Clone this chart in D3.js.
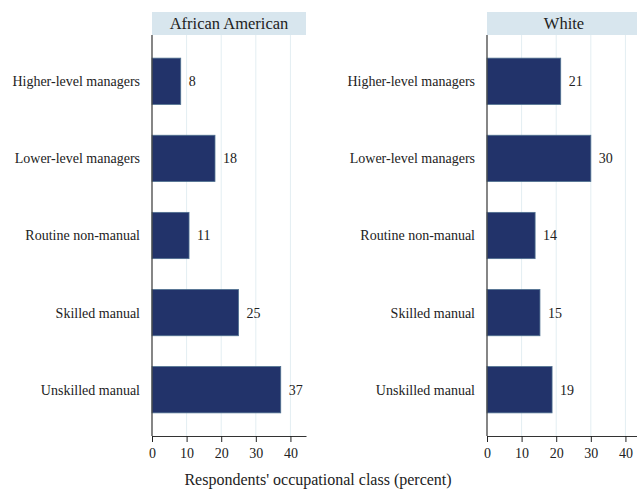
<!DOCTYPE html>
<html>
<head>
<meta charset="utf-8">
<script src="https://cdn.jsdelivr.net/npm/d3@7"></script>
<style>
  html, body { margin: 0; padding: 0; background: #fff; }
  svg { display: block; }
</style>
</head>
<body>
<svg id="chart" width="637" height="489"></svg>
<script>
const categories = ["Higher-level managers", "Lower-level managers", "Routine non-manual", "Skilled manual", "Unskilled manual"];
const panels = ["African American", "White"];
const africanAmerican = [8.3, 18.2, 10.7, 25.0, 37.2];
const white = [21.3, 30.0, 13.9, 15.3, 18.8];
const xTicks = [0, 10, 20, 30, 40];
const axisTitle = "Respondents' occupational class (percent)";

(function () {
const FONT = '"Liberation Serif"';
const seriesList = [africanAmerican, white];
const svg = d3.select("#chart");

const panelLeft = [152, 487];
const panelWidth = 154;
const plotTop = 35, plotBottom = 436;

const y = d3.scaleBand().domain(categories).range([plotTop, plotBottom]).paddingInner(0.4).paddingOuter(0.3);

panels.forEach((name, i) => {
  const x = d3.scaleLinear().domain([0, 44.5]).range([panelLeft[i], panelLeft[i] + panelWidth]);
  const g = svg.append("g");
  const vals = seriesList[i];

  g.append("rect").attr("x", x(0)).attr("y", 12).attr("width", x.range()[1] - x(0)).attr("height", 23)
    .attr("fill", "#d8e6ee");
  g.append("text").attr("x", (x.range()[0] + x.range()[1]) / 2).attr("y", 29)
    .attr("text-anchor", "middle").attr("fill", "#222")
    .style("font-family", FONT).style("font-size", "16.5px").text(name);

  g.selectAll(".grid").data(xTicks.filter(t => t > 0)).join("line")
    .attr("x1", d => x(d)).attr("x2", d => x(d)).attr("y1", plotTop).attr("y2", plotBottom)
    .attr("stroke", "#e3eef2").attr("stroke-width", 1);

  g.selectAll(".bar").data(vals).join("rect")
    .attr("x", x(0)).attr("y", (d, k) => y(categories[k]))
    .attr("width", d => x(d) - x(0)).attr("height", y.bandwidth())
    .attr("fill", "#22336a").attr("stroke", "#4f7090").attr("stroke-width", 0.8);

  g.selectAll(".val").data(vals).join("text")
    .attr("x", d => x(d) + 8).attr("y", (d, k) => y(categories[k]) + y.bandwidth() / 2)
    .attr("dy", "0.35em").attr("fill", "#222")
    .style("font-family", FONT).style("font-size", "14px").text(d => d3.format(".0f")(d));

  g.selectAll(".cat").data(categories).join("text")
    .attr("x", x(0) - 12).attr("y", d => y(d) + y.bandwidth() / 2)
    .attr("dy", "0.35em").attr("text-anchor", "end").attr("fill", "#222")
    .style("font-family", FONT).style("font-size", "14px").text(d => d);

  g.append("line").attr("x1", x(0)).attr("x2", x(0)).attr("y1", plotTop).attr("y2", plotBottom)
    .attr("stroke", "#444").attr("stroke-width", 1.3);

  const ax = g.append("g").attr("transform", `translate(0,${plotBottom})`)
    .call(d3.axisBottom(x).tickValues(xTicks).tickSize(6).tickPadding(6).tickSizeOuter(0));
  ax.attr("font-family", null).attr("font-size", null);
  ax.select(".domain").attr("stroke", "#333");
  ax.selectAll(".tick line").attr("stroke", "#222");
  ax.selectAll("text").style("font-size", "14px").style("font-family", FONT).attr("fill", "#222");
});

svg.append("text").attr("x", 318).attr("y", 485).attr("text-anchor", "middle").attr("fill", "#222")
  .style("font-family", FONT).style("font-size", "16px").text(axisTitle);
})();
</script>
</body>
</html>
